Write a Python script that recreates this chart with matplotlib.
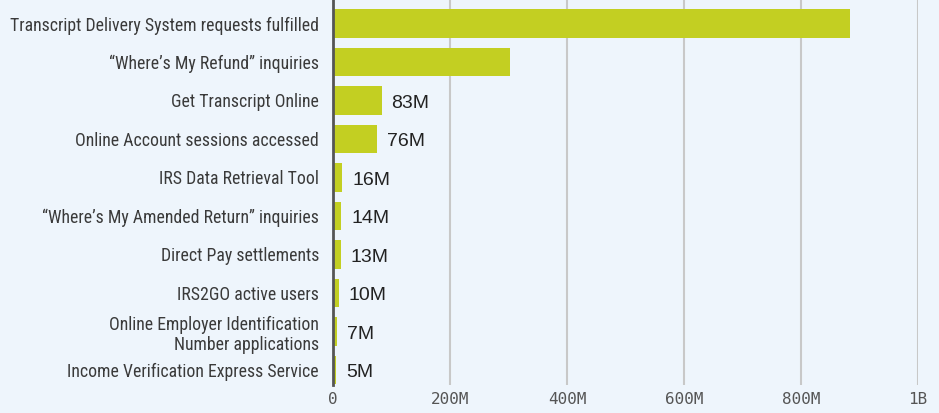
import matplotlib
matplotlib.use("Agg")
import matplotlib.pyplot as plt
from matplotlib.ticker import FixedLocator
from matplotlib import font_manager

categories = [
    "Transcript Delivery System requests fulfilled",
    "\u201cWhere\u2019s My Refund\u201d inquiries",
    "Get Transcript Online",
    "Online Account sessions accessed",
    "IRS Data Retrieval Tool",
    "\u201cWhere\u2019s My Amended Return\u201d inquiries",
    "Direct Pay settlements",
    "IRS2GO active users",
    "Online Employer Identification\nNumber applications",
    "Income Verification Express Service",
]
values = [884e6, 303e6, 83e6, 76e6, 16e6, 14e6, 13e6, 10e6, 7e6, 5e6]
value_labels = ["", "", "83M", "76M", "16M", "14M", "13M", "10M", "7M", "5M"]
tick_values = [0, 200e6, 400e6, 600e6, 800e6, 1e9]
tick_labels = ["0", "200M", "400M", "600M", "800M", "1B"]

bg = "#eef5fc"
bar_color = "#c3cf22"

names = {f.name for f in font_manager.fontManager.ttflist}
narrow = [n for n in ["Liberation Sans Narrow", "Roboto Condensed", "Open Sans Condensed"] if n in names]
cat_family = narrow + ["Liberation Sans", "DejaVu Sans"]
cat_size = 12.8 if narrow else 11.2

fig = plt.figure(figsize=(9.39, 4.13), dpi=100, facecolor=bg)
ax = fig.add_axes([333/939, 1 - 385/413, (918 - 333)/939, 385/413])
ax.set_facecolor(bg)

ypos = list(range(len(categories)))
ax.barh(ypos, values, height=0.75, color=bar_color, zorder=3)

for y, v, lab in zip(ypos, values, value_labels):
    if lab:
        ax.annotate(lab, (v, y), xytext=(10, -3), textcoords="offset pixels",
                    ha="left", va="center", fontsize=14,
                    family=["Liberation Sans", "DejaVu Sans"], color="#222222")

ax.set_xlim(0, 1e9)
ax.set_ylim(9.39, -0.61)
ax.set_yticks(ypos)
ax.set_yticklabels(categories, family=cat_family,
                   fontsize=cat_size, color="#3a3a3a", linespacing=1.15)
ax.xaxis.set_major_locator(FixedLocator(tick_values))
ax.set_xticklabels(tick_labels, family=["DejaVu Sans Mono"], fontsize=11.5, color="#555555")
ax.tick_params(axis="y", length=0, pad=10)
ax.tick_params(axis="x", length=0, pad=5)
ax.grid(axis="x", color="#c8c8c8", linewidth=1.5, zorder=0)
ax.set_axisbelow(True)
for s in ["top", "right", "bottom"]:
    ax.spines[s].set_visible(False)
ax.spines["left"].set_color("#555555")
ax.spines["left"].set_linewidth(2)
ax.spines["left"].set_zorder(4)

fig.savefig("out.png", dpi=100, facecolor=bg)
